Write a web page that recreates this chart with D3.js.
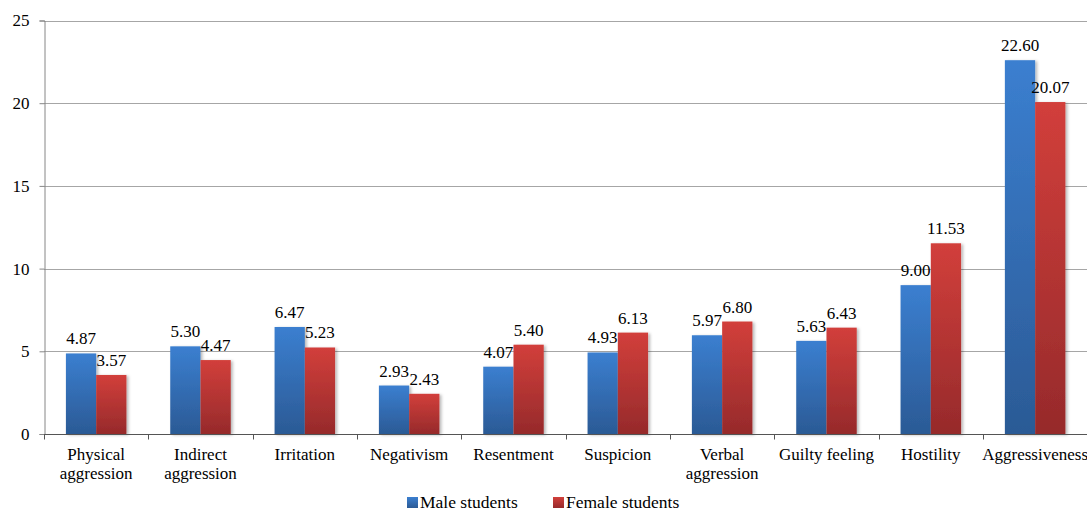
<!DOCTYPE html>
<html>
<head>
<meta charset="utf-8">
<script src="https://cdn.jsdelivr.net/npm/d3@7"></script>
<style>
  html, body { margin: 0; padding: 0; background: #fff; }
  svg { display: block; }
  svg text { font-family: "Times New Roman", "Liberation Serif", "DejaVu Serif", serif; }
</style>
</head>
<body>
<svg id="chart" width="1087" height="512"></svg>
<script>
// Aggression scale scores by gender
const categories = [
  "Physical\naggression", "Indirect\naggression", "Irritation", "Negativism",
  "Resentment", "Suspicion", "Verbal\naggression", "Guilty feeling",
  "Hostility", "Aggressiveness"
];
const seriesNames = ["Male students", "Female students"];
const maleValues   = [4.87, 5.30, 6.47, 2.93, 4.07, 4.93, 5.97, 5.63, 9.00, 22.60];
const femaleValues = [3.57, 4.47, 5.23, 2.43, 5.40, 6.13, 6.80, 6.43, 11.53, 20.07];
const yTicks = [0, 5, 10, 15, 20, 25];

const FONT = "'Times New Roman', 'Liberation Serif', 'DejaVu Serif', serif";

const rows = categories.map((c, i) => ({
  category: c,
  values: [
    { series: seriesNames[0], value: maleValues[i] },
    { series: seriesNames[1], value: femaleValues[i] }
  ]
}));

const svg = d3.select("#chart").attr("font-family", FONT);
const width = 1087;
const plotLeft = 44, plotTop = 20.5, plotBottom = 434;

const x0 = d3.scaleBand().domain(categories).range([plotLeft, 1087.3]).padding(0);
const bw = x0.bandwidth();
const x1 = d3.scaleBand().domain(seriesNames).range([bw * 0.21, bw * 0.79]).padding(0);
const y = d3.scaleLinear().domain([0, 25]).range([plotBottom, plotTop]);

// gradients and shadow
const defs = svg.append("defs");
const grads = {
  "Male students":   ["#3b7fd0", "#2b5a95"],
  "Female students": ["#d23f3b", "#962a2b"]
};
const gradId = s => s === seriesNames[0] ? "gMale" : "gFemale";
Object.entries(grads).forEach(([s, [top, bot]]) => {
  const g = defs.append("linearGradient").attr("id", gradId(s))
    .attr("x1", 0).attr("y1", 0).attr("x2", 0).attr("y2", 1);
  g.append("stop").attr("offset", "0%").attr("stop-color", top);
  g.append("stop").attr("offset", "100%").attr("stop-color", bot);
});
const f = defs.append("filter").attr("id", "shadow")
  .attr("x", "-20%").attr("y", "-5%").attr("width", "150%").attr("height", "115%");
f.append("feDropShadow").attr("dx", 2).attr("dy", 1).attr("stdDeviation", 1.6)
  .attr("flood-color", "#000").attr("flood-opacity", 0.28);

// gridlines
svg.append("g").selectAll("line")
  .data(yTicks.filter(t => t > 0))
  .join("line")
  .attr("x1", plotLeft).attr("x2", width)
  .attr("y1", d => Math.round(y(d)) + 0.5).attr("y2", d => Math.round(y(d)) + 0.5)
  .attr("stroke", "#a6a6a6").attr("stroke-width", 1);

// y axis
const yAxis = svg.append("g")
  .attr("transform", `translate(${plotLeft + 0.5},0)`)
  .call(d3.axisLeft(y).tickValues(yTicks).tickSize(5).tickPadding(10).tickFormat(d3.format("d")))
  .attr("font-family", FONT);
yAxis.select(".domain").attr("stroke", "#868686");
yAxis.selectAll(".tick line").attr("stroke", "#868686");
yAxis.selectAll(".tick text")
  .attr("font-family", FONT).attr("font-size", 17).attr("fill", "#000");

// bars
const groups = svg.append("g").selectAll("g")
  .data(rows).join("g")
  .attr("transform", d => `translate(${x0(d.category)},0)`);

groups.selectAll("rect")
  .data(d => d.values).join("rect")
  .attr("x", d => x1(d.series))
  .attr("y", d => y(d.value))
  .attr("width", x1.bandwidth())
  .attr("height", d => plotBottom - y(d.value))
  .attr("fill", d => `url(#${gradId(d.series)})`)
  .attr("filter", "url(#shadow)");

groups.selectAll("text.val")
  .data(d => d.values).join("text")
  .attr("class", "val")
  .attr("x", d => x1(d.series) + x1.bandwidth() / 2)
  .attr("y", d => y(d.value) - 9)
  .attr("text-anchor", "middle")
  .attr("font-family", FONT)
  .attr("font-size", 17)
  .attr("fill", "#000")
  .text(d => d.value.toFixed(2));

// x axis
const xAxis = svg.append("g").attr("transform", `translate(0,${plotBottom + 0.5})`);
xAxis.append("line")
  .attr("x1", plotLeft).attr("x2", width)
  .attr("stroke", "#555").attr("stroke-width", 1);
const boundaries = categories.map(c => x0(c)).concat([x0.range()[1]]);
xAxis.selectAll("line.tk")
  .data(boundaries).join("line").attr("class", "tk")
  .attr("x1", d => Math.round(d) + 0.5).attr("x2", d => Math.round(d) + 0.5)
  .attr("y1", 0).attr("y2", 5)
  .attr("stroke", "#555");
xAxis.selectAll("text.cat")
  .data(categories).join("text").attr("class", "cat")
  .attr("x", d => x0(d) + bw / 2)
  .attr("y", 25)
  .attr("text-anchor", "middle")
  .attr("font-family", FONT)
  .attr("font-size", 17)
  .attr("fill", "#000")
  .each(function (d) {
    const lines = d.split("\n");
    d3.select(this).selectAll("tspan").data(lines).join("tspan")
      .attr("x", x0(d) + bw / 2)
      .attr("dy", (l, i) => i === 0 ? 0 : 19)
      .text(l => l);
  });

// legend
const legend = svg.append("g").attr("transform", "translate(407,0)");
const legendItems = [
  { name: seriesNames[0], dx: 0 },
  { name: seriesNames[1], dx: 146 }
];
const li = legend.selectAll("g").data(legendItems).join("g")
  .attr("transform", d => `translate(${d.dx},0)`);
li.append("rect")
  .attr("x", 0).attr("y", 497).attr("width", 11).attr("height", 11)
  .attr("fill", d => `url(#${gradId(d.name)})`);
li.append("text")
  .attr("x", 13).attr("y", 507.5)
  .attr("font-family", FONT)
  .attr("font-size", 17.5).attr("fill", "#000")
  .text(d => d.name);
</script>
</body>
</html>
